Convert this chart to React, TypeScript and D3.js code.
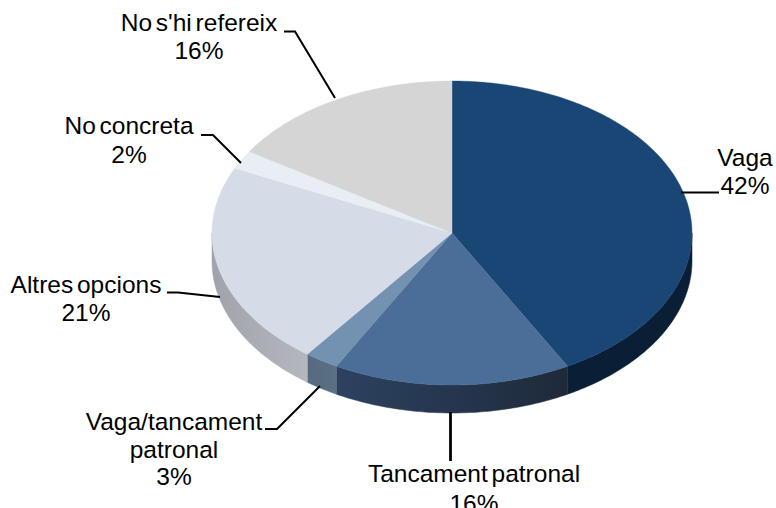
import React from "react";
import * as d3 from "d3";

const labels = [["Vaga", "42%"], ["Tancament patronal", "16%"], ["Vaga/tancament", "patronal", "3%"], ["Altres opcions", "21%"], ["No concreta", "2%"], ["No s'hi refereix", "16%"]];
const values = [42, 16, 2.3, 21.7, 2, 16];
const topColors = ["#1a4675", "#4a6e97", "#7391b0", "#d5dbe7", "#e8eef3", "#d5d5d5"];
const wallFrom = ["#0a1f35", "#2c4260", "#566a80", "#a0a3aa", "#a0a3aa", "#a0a3aa"];
const wallTo = ["#0a1f35", "#1e2a3a", "#5c7084", "#b4b7be", "#b4b7be", "#b4b7be"];
const labelX = [745, 474, 174, 86, 129, 199];
const labelY = [166, 482, 430, 293, 134, 31];
const lineGap = [28, 29.5, 27.5, 28, 29, 28];
const leaders = [
  [[681, 192.5], [719, 192.5]],
  [[450.5, 412], [450.5, 461]],
  [[320, 386], [277, 429], [265, 429]],
  [[220, 297], [178, 292.5], [167, 292.5]],
  [[241, 163], [213, 135], [201, 135]],
  [[335, 98], [295, 31.5], [284, 31.5]],
];
const leaderWidths = [2, 2.8, 2, 2, 2, 2];

const cx = 452, cy = 233, rx = 240, ry = 152, depth = 28;
const px = d3.scaleLinear().domain([-1, 1]).range([cx - rx, cx + rx]);
const py = d3.scaleLinear().domain([-1, 1]).range([cy - ry, cy + ry]);
const pt = (a: number): [number, number] => [px(Math.sin(a)), py(-Math.cos(a))];
const line = d3.line();

const arcs = d3.pie<number>().sort(null)(values);

function arcPts(a0: number, a1: number, dy = 0) {
  const n = Math.max(2, Math.ceil((a1 - a0) * 60));
  return d3.range(n + 1).map((i) => {
    const p = pt(a0 + ((a1 - a0) * i) / n);
    return [p[0], p[1] + dy] as [number, number];
  });
}

export default function App() {
  return (
    <svg width={776} height={508} style={{ position: "absolute", left: 0, top: 0 }} fontFamily="'Liberation Sans', Arial, sans-serif">
      <defs>
        {arcs.map((d, i) => {
          const a0 = Math.max(d.startAngle, Math.PI / 2), a1 = Math.min(d.endAngle, 1.5 * Math.PI);
          if (a1 <= a0) return null;
          return (
            <linearGradient key={i} id={`w${i}`} gradientUnits="userSpaceOnUse" x1={pt(a1)[0]} x2={pt(a0)[0]} y1={0} y2={0}>
              <stop offset="0" stopColor={wallFrom[i]} />
              <stop offset="1" stopColor={wallTo[i]} />
            </linearGradient>
          );
        })}
      </defs>
      {arcs.map((d, i) => {
        const a0 = Math.max(d.startAngle, Math.PI / 2), a1 = Math.min(d.endAngle, 1.5 * Math.PI);
        if (a1 <= a0) return null;
        const pts = [...arcPts(a0, a1), ...arcPts(a0, a1, depth).reverse()];
        return <path key={i} d={line(pts) + "Z"} fill={`url(#w${i})`} stroke={`url(#w${i})`} strokeWidth={0.5} />;
      })}
      {arcs.map((d, i) => (
        <path key={i} d={line([[cx, cy], ...arcPts(d.startAngle, d.endAngle)]) + "Z"} fill={topColors[i]} stroke={topColors[i]} strokeWidth={0.4} />
      ))}
      {leaders.map((l, i) => (
        <path key={i} d={line(l as [number, number][])!} fill="none" stroke="#000" strokeWidth={leaderWidths[i]} />
      ))}
      {labels.map((ls, i) => (
        <text key={i} textAnchor="middle" fontSize={24.5} fill="#000" wordSpacing={-3}>
          {ls.map((t, j) => (
            <tspan key={j} x={labelX[i]} y={labelY[i] + j * lineGap[i]}>{t}</tspan>
          ))}
        </text>
      ))}
    </svg>
  );
}
